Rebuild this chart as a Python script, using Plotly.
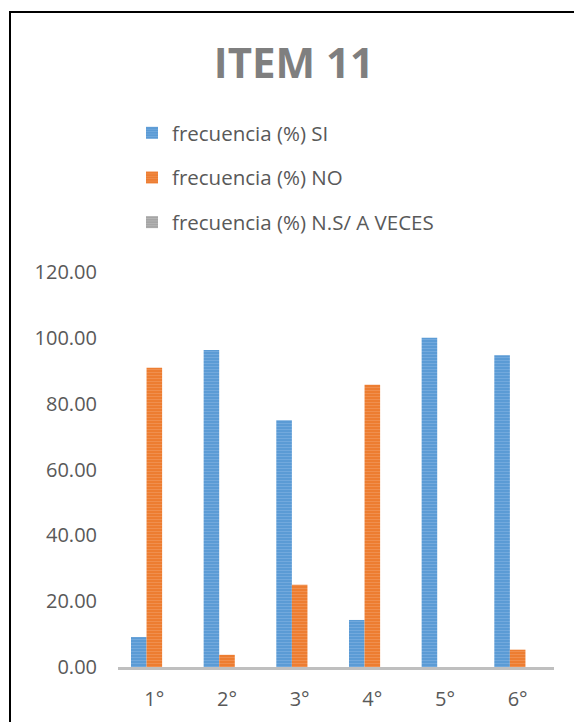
import plotly.graph_objects as go

categories = ["1°", "2°", "3°", "4°", "5°", "6°"]
si_values = [9.09, 96.30, 75.00, 14.29, 100.00, 94.74]
no_values = [90.91, 3.70, 25.00, 85.71, 0.00, 5.26]
ns_values = [0.00, 0.00, 0.00, 0.00, 0.00, 0.00]
series_names = ["frecuencia (%) SI", "frecuencia (%) NO", "frecuencia (%) N.S/ A VECES"]
y_ticks = [0, 20, 40, 60, 80, 100, 120]

W, H = 574, 722
L, R, T, B = 118, 20, 272, 55
pw, ph = W - L - R, H - T - B

colors = ["#5B9BD5", "#ED7D31", "#A5A5A5"]
light = ["#8DBBE6", "#F4A470", "#C8C8C8"]

fig = go.Figure()
for i, (name, vals) in enumerate(zip(series_names, [si_values, no_values, ns_values])):
    fig.add_trace(go.Bar(
        x=categories, y=vals, name=name, legendgroup=f"g{i}",
        marker=dict(color=colors[i], line=dict(width=0),
                    pattern=dict(shape="-", fgcolor=light[i], bgcolor=colors[i],
                                 size=3, solidity=0.3)),
    ))

def px_x(px):
    return (px - L) / pw

def px_y(py):
    return (H - B - py) / ph

fig.add_shape(type="rect", xref="paper", yref="paper",
              x0=px_x(10), x1=px_x(600), y0=px_y(740), y1=px_y(12),
              line=dict(color="#000000", width=2), fillcolor="rgba(0,0,0,0)")

fig.update_layout(
    width=W, height=H,
    margin=dict(l=L, r=R, t=T, b=B, autoexpand=False),
    paper_bgcolor="white", plot_bgcolor="white",
    barmode="group", bargap=0.357, bargroupgap=0,
    font=dict(family="Open Sans", size=20, color="#595959"),
    title=dict(text="<b>ITEM 11</b>", x=294 / W, xanchor="center",
               y=1 - 63 / H, yanchor="middle", yref="container", xref="container",
               font=dict(family="Open Sans", size=42, color="#7F7F7F")),
    legend=dict(xref="container", yref="container", x=132 / W, xanchor="left",
                y=1 - 113 / H, yanchor="top", orientation="v",
                tracegroupgap=15, bgcolor="rgba(0,0,0,0)",
                font=dict(family="Open Sans", size=20.5, color="#595959")),
    showlegend=True,
)
fig.update_xaxes(showline=True, linecolor="#BFBFBF", linewidth=3, showgrid=False,
                 ticks="", ticklabelstandoff=12, zeroline=False)
fig.update_yaxes(range=[0, 120], tickvals=y_ticks, tickformat=".2f", showgrid=False,
                 showline=False, zeroline=False, ticks="", ticklabelstandoff=20)

fig.write_html("out.html", config={"displayModeBar": False},
               post_script="document.body.style.margin='0';")
